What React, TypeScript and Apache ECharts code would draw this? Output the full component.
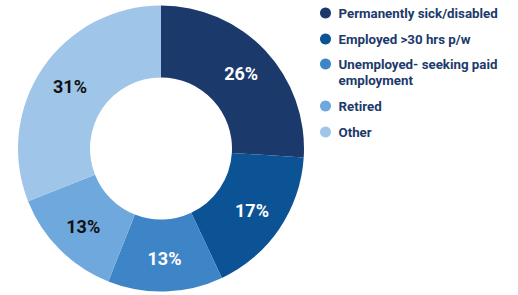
import React, { useEffect, useRef } from "react";
import * as echarts from "echarts";

const categories = [
  "Permanently sick/disabled",
  "Employed >30 hrs p/w",
  "Unemployed- seeking paid\nemployment",
  "Retired",
  "Other",
];
const values = [26, 17, 13, 13, 31];
const colors = ["#1b3a6b", "#0b5394", "#3d85c6", "#6fa8dc", "#9fc5e8"];
const labelColors = ["#ffffff", "#ffffff", "#ffffff", "#111111", "#111111"];

export default function App() {
  const ref = useRef<HTMLDivElement>(null);
  useEffect(() => {
    document.body.style.margin = "0";
    const chart = echarts.init(ref.current!, null, { renderer: "svg" });
    const legendBase = {
      orient: "vertical" as const,
      left: 320,
      padding: 0,
      icon: "circle",
      itemWidth: 16,
      itemHeight: 11,
      itemGap: 10,
      selectedMode: false,
      textStyle: {
        fontFamily: "Roboto",
        fontWeight: "bold" as const,
        fontSize: 13.3,
        color: "#1b3a6b",
        lineHeight: 16,
      },
    };
    chart.setOption({
      animation: false,
      color: colors,
      legend: [
        { ...legendBase, top: 5, data: [categories[0], categories[1]] },
        {
          ...legendBase,
          top: 40,
          data: [categories[2]],
          formatter: (name: string) => "\n" + name,
        },
        { ...legendBase, top: 98, data: [categories[3], categories[4]] },
      ],
      series: [
        {
          type: "pie",
          center: [161, 148.5],
          radius: [71, 143],
          startAngle: 90,
          clockwise: true,
          avoidLabelOverlap: false,
          emphasis: { disabled: true },
          label: {
            show: true,
            position: "inside",
            formatter: "{c}%",
            fontFamily: "Roboto",
            fontWeight: "bold",
            fontSize: 18,
          },
          labelLine: { show: false },
          data: categories.map((name, i) => ({
            name,
            value: values[i],
            itemStyle: { color: colors[i] },
            label: { color: labelColors[i] },
          })),
        },
      ],
    });
    return () => chart.dispose();
  }, []);
  return <div ref={ref} style={{ width: 518, height: 295 }} />;
}
